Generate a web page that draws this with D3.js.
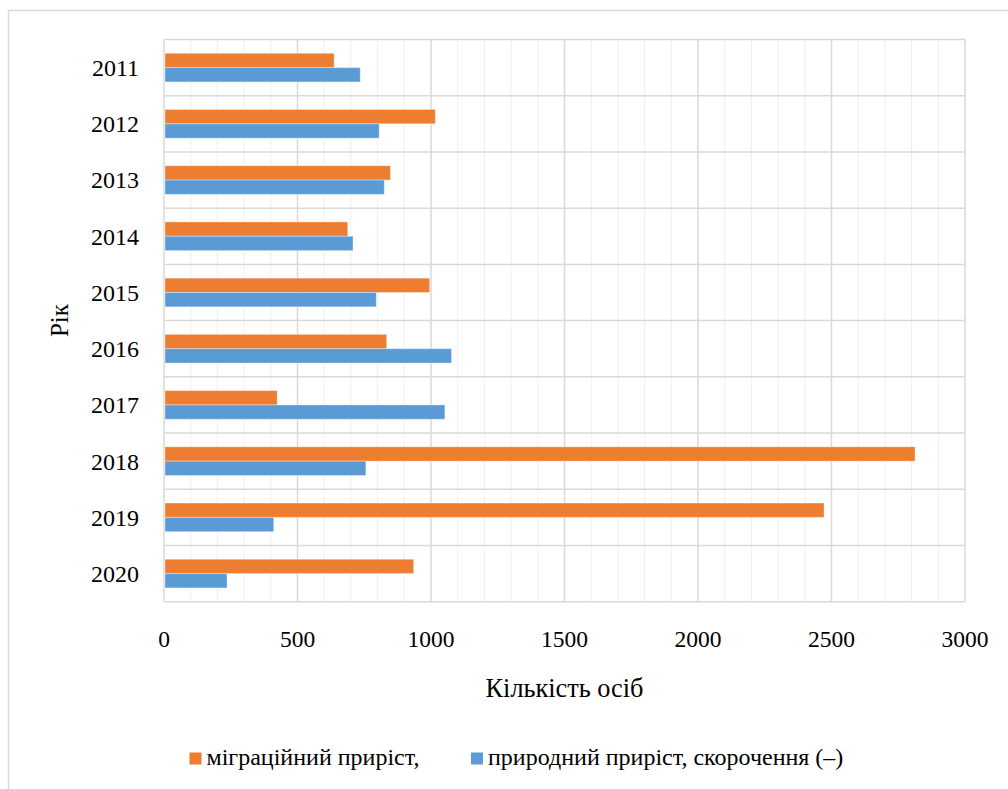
<!DOCTYPE html>
<html>
<head>
<meta charset="utf-8">
<script src="https://cdn.jsdelivr.net/npm/d3@7"></script>
<style>
  html, body { margin: 0; padding: 0; background: #fff; }
  svg { display: block; }
</style>
</head>
<body>
<svg id="chart" width="1008" height="789"></svg>
<script>
// Population change by year
const years = ["2011", "2012", "2013", "2014", "2015", "2016", "2017", "2018", "2019", "2020"];
const migration = [637, 1016, 848, 688, 995, 834, 424, 2813, 2472, 935];
const natural = [735, 806, 825, 708, 795, 1077, 1052, 756, 411, 236];
const seriesNames = ["міграційний приріст,", "природний приріст, скорочення (–)"];
const seriesColors = ["#ED7D31", "#5B9BD5"];
const xTicks = [0, 500, 1000, 1500, 2000, 2500, 3000];
const xTitle = "Кількість осіб";
const yTitle = "Рік";

const FONT = "'Liberation Serif'";
const svg = d3.select("#chart");

const plot = { left: 164, right: 965, top: 39.5, bottom: 601.7 };

// outer chart frame
svg.append("rect")
  .attr("x", 8.5).attr("y", 10.5)
  .attr("width", 1100).attr("height", 900)
  .attr("fill", "none").attr("stroke", "#d9d9d9").attr("stroke-width", 1.5);

const x = d3.scaleLinear().domain([0, 3000]).range([plot.left, plot.right]);
const y = d3.scaleBand().domain(years).range([plot.top, plot.bottom]).paddingInner(0).paddingOuter(0);

// bars of one category occupy the middle half of the row
const groupW = y.bandwidth() * 0.51;
const inner = d3.scaleBand().domain([0, 1])
  .range([(y.bandwidth() - groupW) / 2, (y.bandwidth() + groupW) / 2]);

const g = svg.append("g");

// minor vertical gridlines every 100
g.append("g").selectAll("line")
  .data(d3.range(100, 3000, 100).filter(v => v % 500 !== 0))
  .join("line")
  .attr("x1", d => x(d)).attr("x2", d => x(d))
  .attr("y1", plot.top).attr("y2", plot.bottom)
  .attr("stroke", "#efefef").attr("stroke-width", 1);

// major vertical gridlines
g.append("g").selectAll("line")
  .data(xTicks)
  .join("line")
  .attr("x1", d => x(d)).attr("x2", d => x(d))
  .attr("y1", plot.top).attr("y2", plot.bottom)
  .attr("stroke", "#d9d9d9").attr("stroke-width", 1.5);

// horizontal category separators
const bounds = years.map(d => y(d)).concat([y(years[years.length - 1]) + y.bandwidth()]);
g.append("g").selectAll("line")
  .data(bounds)
  .join("line")
  .attr("x1", plot.left).attr("x2", plot.right)
  .attr("y1", d => d).attr("y2", d => d)
  .attr("stroke", "#d9d9d9").attr("stroke-width", 1.5);

// bars
const rows = years.map((yr, i) => ({ yr, vals: [migration[i], natural[i]] }));
const rowG = g.append("g").selectAll("g")
  .data(rows)
  .join("g")
  .attr("transform", d => `translate(0,${y(d.yr)})`);

rowG.selectAll("rect")
  .data(d => d.vals.map((v, k) => ({ v, k })))
  .join("rect")
  .attr("x", x(0) + 1)
  .attr("y", d => inner(d.k))
  .attr("width", d => x(d.v) - x(0) - 1)
  .attr("height", inner.bandwidth())
  .attr("fill", d => seriesColors[d.k])
  .attr("stroke", "#ffffff").attr("stroke-opacity", 0.35).attr("stroke-width", 1);

// category labels
g.append("g").selectAll("text")
  .data(years)
  .join("text")
  .attr("x", 139)
  .attr("y", d => y(d) + y.bandwidth() / 2)
  .attr("dy", "0.35em")
  .attr("text-anchor", "end")
  .attr("font-family", FONT)
  .attr("font-size", 24)
  .text(d => d);

// value axis labels
g.append("g").selectAll("text")
  .data(xTicks)
  .join("text")
  .attr("x", d => x(d))
  .attr("y", 647)
  .attr("text-anchor", "middle")
  .attr("font-family", FONT)
  .attr("font-size", 23.5)
  .text(d => d);

// axis titles
svg.append("text")
  .attr("x", (plot.left + plot.right) / 2)
  .attr("y", 697)
  .attr("text-anchor", "middle")
  .attr("font-family", FONT)
  .attr("font-size", 26.3)
  .text(xTitle);

svg.append("text")
  .attr("transform", `translate(68,${(plot.top + plot.bottom) / 2}) rotate(-90)`)
  .attr("text-anchor", "middle")
  .attr("font-family", FONT)
  .attr("font-size", 25)
  .text(yTitle);

// legend
const legendX = [189.5, 471];
const legend = svg.append("g").selectAll("g")
  .data(seriesNames)
  .join("g")
  .attr("transform", (d, i) => `translate(${legendX[i]},752.5)`);
legend.append("rect")
  .attr("width", 12).attr("height", 12)
  .attr("fill", (d, i) => seriesColors[i]);
legend.append("text")
  .attr("x", 17)
  .attr("y", 12.5)
  .attr("font-family", FONT)
  .attr("font-size", 24)
  .text(d => d);
</script>
</body>
</html>
